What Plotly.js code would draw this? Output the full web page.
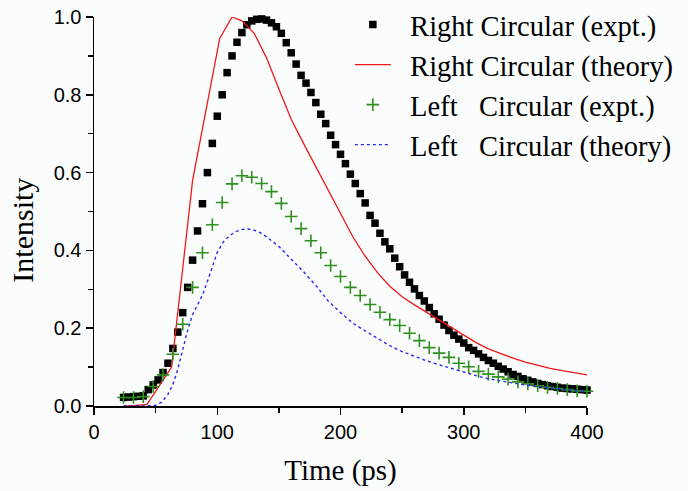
<!DOCTYPE html>
<html>
<head>
<meta charset="utf-8">
<script src="https://cdn.plot.ly/plotly-3.0.1.min.js"></script>
<style>
  html, body { margin: 0; padding: 0; background: #fbfdfd; }
  #chart { width: 688px; height: 491px; }
</style>
</head>
<body>
<div id="chart"></div>
<script>
// ---- data ----
var timeRightExpt = [24, 28, 32, 36, 40, 44, 48, 52, 56, 60, 64, 68, 72, 76, 80, 84, 88, 92, 96, 100,
  104, 108, 112, 116, 120, 124, 128, 132, 136, 140, 144, 148, 152, 156, 160, 164, 168, 172, 176, 180,
  184, 188, 192, 196, 200, 204, 208, 212, 216, 220, 224, 228, 232, 236, 240, 244, 248, 252, 256, 260,
  264, 268, 272, 276, 280, 284, 288, 292, 296, 300, 304, 308, 312, 316, 320, 324, 328, 332, 336, 340,
  344, 348, 352, 356, 360, 364, 368, 372, 376, 380, 384, 388, 392, 396, 400];
var intensityRightExpt = [0.022, 0.023, 0.024, 0.025, 0.026, 0.042, 0.054, 0.067, 0.086, 0.110, 0.148, 0.190, 0.240, 0.305, 0.375, 0.450, 0.520, 0.600, 0.675, 0.745,
  0.800, 0.857, 0.900, 0.935, 0.960, 0.980, 0.990, 0.994, 0.995, 0.992, 0.985, 0.975, 0.958, 0.934, 0.908, 0.879, 0.850, 0.830, 0.806, 0.780,
  0.750, 0.726, 0.696, 0.672, 0.647, 0.623, 0.596, 0.572, 0.546, 0.522, 0.490, 0.470, 0.444, 0.422, 0.404, 0.380, 0.358, 0.337, 0.318, 0.301,
  0.284, 0.270, 0.253, 0.237, 0.223, 0.208, 0.194, 0.182, 0.172, 0.162, 0.150, 0.143, 0.134, 0.125, 0.117, 0.110, 0.102, 0.095, 0.088, 0.081,
  0.076, 0.070, 0.066, 0.062, 0.058, 0.055, 0.052, 0.050, 0.048, 0.046, 0.045, 0.044, 0.043, 0.042, 0.041];

var timeRightTheory = [24, 30, 43, 63, 80, 92, 102, 112, 120, 130, 140, 150, 160, 170, 180, 190, 200, 210, 220, 230,
  240, 250, 260, 270, 280, 290, 300, 310, 320, 330, 340, 350, 360, 370, 380, 390, 400];
var intensityRightTheory = [0.0, 0.0, 0.004, 0.100, 0.580, 0.780, 0.945, 1.000, 0.990, 0.958, 0.895, 0.815, 0.737, 0.675, 0.615, 0.553, 0.493, 0.435, 0.385, 0.343,
  0.308, 0.281, 0.260, 0.241, 0.222, 0.203, 0.184, 0.163, 0.147, 0.134, 0.123, 0.113, 0.105, 0.097, 0.091, 0.085, 0.080];

var timeLeftExpt = [24, 32, 40, 48, 56, 64, 72, 80, 88, 96, 104, 112, 120, 128, 136, 144, 152, 160, 168, 176,
  184, 192, 200, 208, 216, 224, 232, 240, 248, 256, 264, 272, 280, 288, 296, 304, 312, 320, 328, 336,
  344, 352, 360, 368, 376, 384, 392, 400];
var intensityLeftExpt = [0.022, 0.022, 0.024, 0.050, 0.080, 0.133, 0.210, 0.305, 0.394, 0.466, 0.523, 0.571, 0.592, 0.588, 0.572, 0.551, 0.521, 0.487, 0.456, 0.425,
  0.394, 0.361, 0.333, 0.305, 0.284, 0.261, 0.241, 0.222, 0.207, 0.187, 0.168, 0.150, 0.136, 0.125, 0.110, 0.101, 0.089, 0.082, 0.075, 0.069,
  0.062, 0.057, 0.052, 0.048, 0.045, 0.042, 0.039, 0.038];

var timeLeftTheory = [24, 30, 40, 50, 55, 60, 64, 68, 72, 76, 80, 84, 88, 92, 96, 100, 105, 110, 115, 120,
  125, 130, 135, 140, 150, 160, 170, 180, 190, 200, 210, 220, 230, 240, 250, 260, 270, 280, 290, 300,
  310, 320, 330, 340, 350, 360, 370, 380, 390, 400];
var intensityLeftTheory = [0.0, 0.0, 0.0, 0.002, 0.010, 0.030, 0.055, 0.095, 0.145, 0.195, 0.235, 0.260, 0.285, 0.320, 0.360, 0.395, 0.422, 0.438, 0.448, 0.454,
  0.455, 0.452, 0.445, 0.435, 0.410, 0.378, 0.345, 0.310, 0.270, 0.240, 0.213, 0.193, 0.175, 0.155, 0.140, 0.127, 0.116, 0.106, 0.097, 0.086,
  0.078, 0.070, 0.064, 0.059, 0.054, 0.050, 0.046, 0.043, 0.040, 0.037];

var seriesNames = ['\u00a0\u00a0Right Circular (expt.)', '\u00a0\u00a0Right Circular (theory)',
  '\u00a0\u00a0Left\u00a0\u00a0\u00a0Circular (expt.)', '\u00a0\u00a0Left\u00a0\u00a0\u00a0Circular (theory)'];
var xTickVals = [0, 100, 200, 300, 400];
var yTickVals = [0.0, 0.2, 0.4, 0.6, 0.8, 1.0];

var serif = 'Liberation Serif, Times New Roman, serif';
var sans = 'Liberation Sans, Arial, sans-serif';

var traces = [
  { x: timeRightExpt, y: intensityRightExpt, name: seriesNames[0], type: 'scatter', mode: 'markers',
    legendgroup: 'a', cliponaxis: false,
    marker: { symbol: 'square', size: 7.5, color: '#000000', line: { width: 0 } } },
  { x: timeRightTheory, y: intensityRightTheory, name: seriesNames[1], type: 'scatter', mode: 'lines',
    legendgroup: 'b', cliponaxis: false,
    line: { color: '#f01818', width: 1.3 } },
  { x: timeLeftExpt, y: intensityLeftExpt, name: seriesNames[2], type: 'scatter', mode: 'markers',
    legendgroup: 'c', cliponaxis: false,
    marker: { symbol: 'cross-thin-open', size: 9, color: '#2f8f1f', line: { width: 1.6, color: '#2f8f1f' } } },
  { x: timeLeftTheory, y: intensityLeftTheory, name: seriesNames[3], type: 'scatter', mode: 'lines',
    legendgroup: 'd', cliponaxis: false,
    line: { color: '#2a2aee', width: 1.4, dash: 'dot' } }
];

var layout = {
  width: 688, height: 491,
  margin: { l: 94, r: 101, t: 17, b: 85, autoexpand: false },
  paper_bgcolor: '#fbfdfd', plot_bgcolor: '#fbfdfd',
  showlegend: true,
  legend: {
    x: 0.519, xanchor: 'left', y: 1.045, yanchor: 'top',
    bgcolor: 'rgba(0,0,0,0)', borderwidth: 0,
    font: { family: serif, size: 28.5, color: '#000' },
    itemwidth: 36, tracegroupgap: 1, traceorder: 'normal'
  },
  xaxis: {
    range: [0, 400], tickmode: 'array', tickvals: xTickVals, automargin: false,
    ticks: 'outside', ticklen: 7, tickwidth: 1.5, tickcolor: '#000',
    showline: true, linecolor: '#000', linewidth: 1.5,
    showgrid: false, zeroline: false,
    minor: { dtick: 50, ticks: 'outside', ticklen: 5, tickwidth: 1.5, tickcolor: '#000', showgrid: false },
    tickfont: { family: sans, size: 20, color: '#000' },
    title: { text: 'Time (ps)', font: { family: serif, size: 29, color: '#000' }, standoff: 18 }
  },
  yaxis: {
    range: [0, 1.0], tickmode: 'array', tickvals: yTickVals, tickformat: '.1f', automargin: false,
    ticks: 'outside', ticklen: 7, tickwidth: 1.5, tickcolor: '#000',
    showline: true, linecolor: '#000', linewidth: 1.5,
    showgrid: false, zeroline: false,
    minor: { dtick: 0.1, ticks: 'outside', ticklen: 5, tickwidth: 1.5, tickcolor: '#000', showgrid: false },
    tickfont: { family: sans, size: 20, color: '#000' }
  },
  annotations: [
    { text: 'Intensity', xref: 'paper', yref: 'paper', x: -0.145, y: 0.452,
      xanchor: 'center', yanchor: 'middle', textangle: -90, showarrow: false,
      font: { family: serif, size: 30, color: '#000' } }
  ]
};

Plotly.newPlot('chart', traces, layout, { displayModeBar: false, staticPlot: true });
</script>
</body>
</html>
